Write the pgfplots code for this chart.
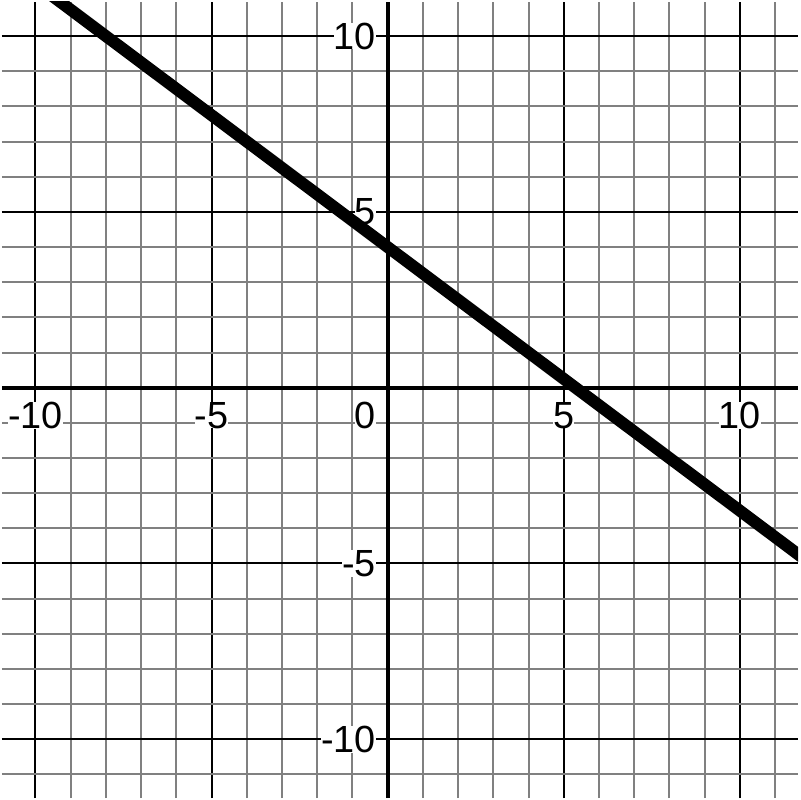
\documentclass[border=0pt]{standalone}
\usepackage{pgfplots}
\pgfplotsset{compat=1.18}
\usepackage{fontspec}
\setmainfont{Liberation Sans}
\begin{document}
\begin{tikzpicture}
\begin{axis}[
scale only axis,
width=400pt, height=400pt,
axis lines=middle,
axis line style={line width=2pt, black, -},
xmin=-10.95, xmax=11.65,
ymin=-11.67, ymax=10.97,
xtick={-10,-5,5,10}, ytick={-10,-5,5,10},
xticklabels={-10,-5,5,10}, yticklabels={-10,-5,5,10},
minor xtick={-11,-10,...,12}, minor ytick={-12,-11,...,11},
major tick length=0pt, minor tick length=0pt,
grid=both,
major grid style={line width=1pt, black},
minor grid style={line width=1pt, gray},
font=\fontsize{19}{19}\selectfont,
xticklabel style={anchor=north, inner sep=0pt, fill=white, yshift=-7pt},
yticklabel style={anchor=east, inner sep=0pt, fill=white, xshift=-5.75pt},
clip=true,
]
\addplot[line width=6pt, black] coordinates {(-12, 13) (12, -5)};
\node[anchor=north east, inner sep=0pt, fill=white, font=\fontsize{19}{19}\selectfont]
  at (axis cs:0,0) [xshift=-5.75pt, yshift=-7pt] {0};
\end{axis}
\end{tikzpicture}
\end{document}
